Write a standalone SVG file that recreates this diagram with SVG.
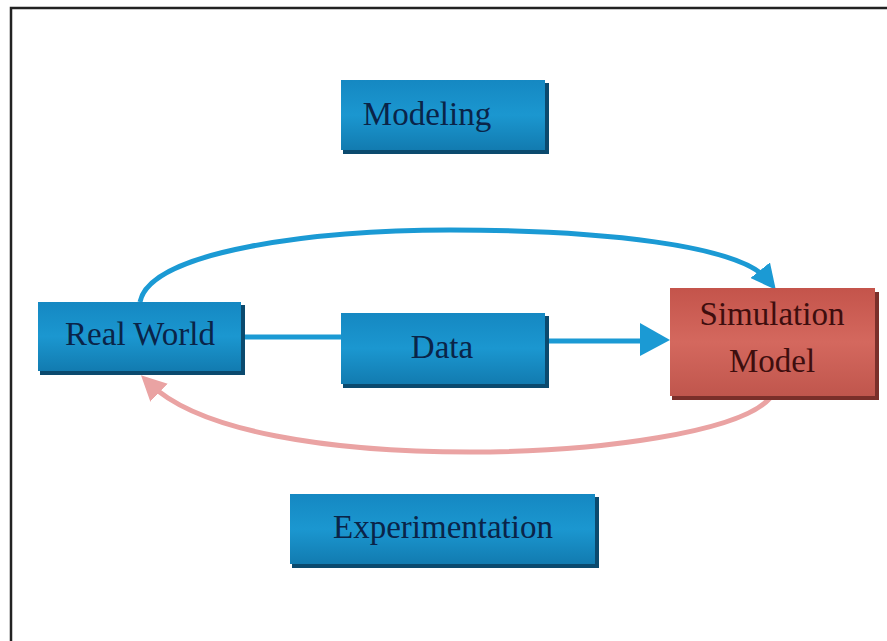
<svg xmlns="http://www.w3.org/2000/svg" width="887" height="641" viewBox="0 0 887 641">
<style>
.lbl{font-family:"Liberation Serif","Times New Roman",serif;font-size:33px;text-anchor:middle}
.bt{fill:#0a2448}
.rt{fill:#3e0e0e}
.sh{fill:#0b4a6e}
.shr{fill:#7a2f2a}
.blue{fill:url(#gb)}
.red{fill:url(#gr)}
.cb{fill:none;stroke:#1b9ad4;stroke-width:5}
.cr{fill:none;stroke:#eaa3a3;stroke-width:5}
</style>
<defs>
<linearGradient id="gb" x1="0" y1="0" x2="0" y2="1">
<stop offset="0" stop-color="#1588c2"/>
<stop offset="0.5" stop-color="#1b97d0"/>
<stop offset="1" stop-color="#127bb0"/>
</linearGradient>
<linearGradient id="gr" x1="0" y1="0" x2="0" y2="1">
<stop offset="0" stop-color="#c4544b"/>
<stop offset="0.5" stop-color="#d4685e"/>
<stop offset="1" stop-color="#c0564d"/>
</linearGradient>
<marker id="ab" markerWidth="5" markerHeight="5" refX="2.5" refY="2.5" orient="auto" markerUnits="strokeWidth">
<path d="M0,0 L5,2.5 L0,5 z" fill="#1b9ad4"/>
</marker>
<marker id="ar" markerWidth="5" markerHeight="5" refX="2.5" refY="2.5" orient="auto" markerUnits="strokeWidth">
<path d="M0,0 L5,2.5 L0,5 z" fill="#eaa3a3"/>
</marker>
</defs>
<rect x="0" y="0" width="887" height="641" fill="#ffffff"/>
<path d="M11 641 L11 8 L887 8" fill="none" stroke="#222" stroke-width="2.5"/>
<g id="connectors">
<path class="cb" d="M140 302 C150 250,320 230,450 230 C600 230,740 245,768 280" marker-end="url(#ab)"/>
<line class="cb" x1="243" y1="337" x2="341" y2="337"/>
<line class="cb" x1="547" y1="341" x2="642" y2="341"/>
<path d="M640 323 L670 340 L640 356 z" fill="#1b9ad4"/>
<path class="cr" d="M770 398 C740 432,600 452,470 452 C330 452,200 432,150 384" marker-end="url(#ar)"/>
</g>
<g id="modeling">
<rect class="sh" x="343" y="83" width="206" height="71"/>
<rect class="blue" x="341" y="80" width="204" height="70"/>
<text class="lbl bt" x="427" y="125">Modeling</text>
</g>
<g id="realworld">
<rect class="sh" x="40" y="305" width="205" height="70"/>
<rect class="blue" x="38" y="302" width="203" height="69"/>
<text class="lbl bt" x="140" y="345">Real World</text>
</g>
<g id="data">
<rect class="sh" x="343" y="316" width="206" height="72"/>
<rect class="blue" x="341" y="313" width="204" height="71"/>
<text class="lbl bt" x="442" y="358">Data</text>
</g>
<g id="simulation">
<rect class="shr" x="672" y="292" width="207" height="108"/>
<rect class="red" x="670" y="288" width="205" height="108"/>
<text class="lbl rt" x="772" y="325">Simulation</text>
<text class="lbl rt" x="772" y="372">Model</text>
</g>
<g id="experimentation">
<rect class="sh" x="292" y="497" width="307" height="71"/>
<rect class="blue" x="290" y="494" width="305" height="70"/>
<text class="lbl bt" x="443" y="538">Experimentation</text>
</g>
</svg>
